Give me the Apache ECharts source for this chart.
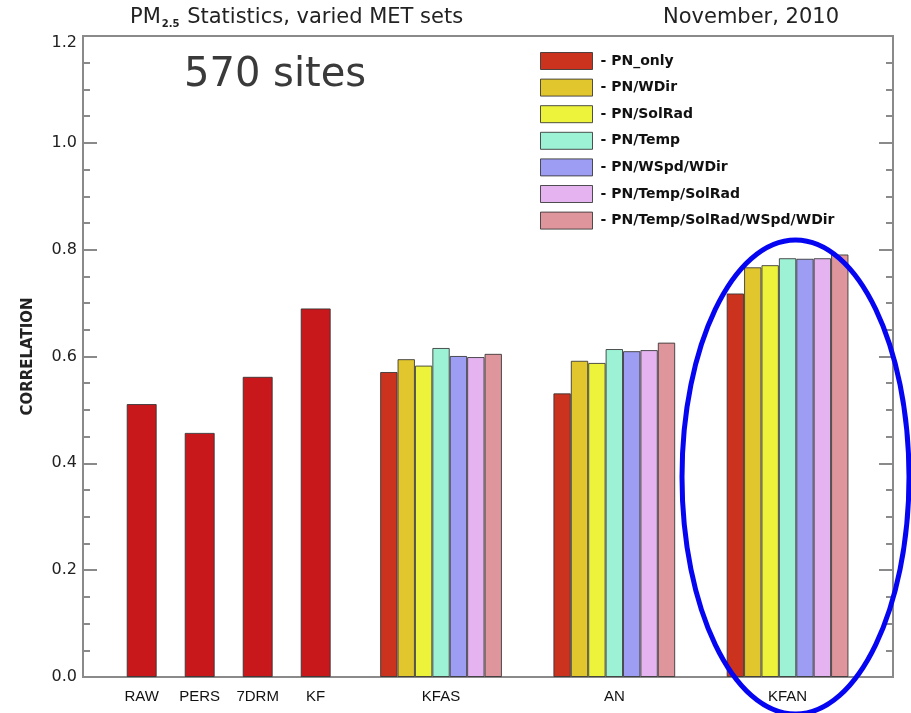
<!DOCTYPE html>
<html>
<head>
<meta charset="utf-8">
<script src="https://cdn.jsdelivr.net/npm/echarts@6/dist/echarts.min.js"></script>
<style>
  html, body { margin: 0; padding: 0; background: #fff; }
  #chart { width: 911px; height: 713px; }
</style>
</head>
<body>
<div id="chart"></div>
<script>
// Single-method forecasts (drawn as lone bars)
const singleCategories = ['RAW', 'PERS', '7DRM', 'KF'];
const singleValues = [0.511, 0.457, 0.562, 0.690];

// Analog-ensemble methods, each with seven MET predictor sets
const groupCategories = ['KFAS', 'AN', 'KFAN'];
const metSetNames = [
  'PN_only',
  'PN/WDir',
  'PN/SolRad',
  'PN/Temp',
  'PN/WSpd/WDir',
  'PN/Temp/SolRad',
  'PN/Temp/SolRad/WSpd/WDir'
];
const pnOnly         = [0.571, 0.531, 0.718];
const pnWDir         = [0.595, 0.592, 0.767];
const pnSolRad       = [0.583, 0.588, 0.771];
const pnTemp         = [0.616, 0.614, 0.784];
const pnWSpdWDir     = [0.601, 0.610, 0.783];
const pnTempSolRad   = [0.599, 0.612, 0.784];
const pnTempSolRadWS = [0.605, 0.626, 0.791];
const metSetValues = [pnOnly, pnWDir, pnSolRad, pnTemp, pnWSpdWDir, pnTempSolRad, pnTempSolRadWS];

// Correlation axis
const yMin = 0;
const yMax = 1.2;
const yStep = 0.2;

const metSetColors = ['#CC331E', '#E2C62E', '#ECF33A', '#9DF2D6', '#9D9DF4', '#E4B3F0', '#DE969C'];
const singleColor = '#C8181C';
const frameColor = '#8a8a8a';
const textColor = '#222';

const TOP = 36, BOTTOM = 36;

const chart = echarts.init(document.getElementById('chart'), null, { renderer: 'canvas' });

const hiddenY = (gi) => ({
  gridIndex: gi, type: 'value', min: yMin, max: yMax, interval: yStep, show: false
});

const frameY = (position, showLabels) => ({
  gridIndex: 0,
  type: 'value',
  position: position,
  min: yMin,
  max: yMax,
  interval: yStep,
  splitLine: { show: false },
  axisLine: { show: true, lineStyle: { color: frameColor, width: 2 } },
  axisTick: { show: true, inside: true, length: 14, lineStyle: { color: frameColor, width: 2 } },
  minorTick: { show: true, splitNumber: 4, length: 7, lineStyle: { color: frameColor, width: 2 } },
  axisLabel: {
    show: showLabels,
    margin: 6,
    color: textColor,
    fontFamily: 'DejaVu Sans',
    fontSize: 16,
    formatter: (v) => (Math.abs(v - yMax) < 1e-9 ? '{top|' + v.toFixed(1) + '}' : v.toFixed(1)),
    rich: { top: { fontFamily: 'DejaVu Sans', fontSize: 16, color: textColor, padding: [14, 0, 0, 0] } }
  },
  name: showLabels ? 'CORRELATION' : '',
  nameLocation: 'middle',
  nameRotate: 90,
  nameGap: 47,
  nameTextStyle: { color: textColor, fontFamily: 'DejaVu Sans', fontSize: 15, fontWeight: 'bold' }
});

const catAxis = (gi, data) => ({
  gridIndex: gi,
  type: 'category',
  data: data,
  axisLine: { show: false },
  axisTick: { show: false },
  splitLine: { show: false },
  axisLabel: {
    interval: 0,
    hideOverlap: false,
    margin: 12,
    color: '#111',
    fontFamily: 'Liberation Sans',
    fontSize: 15
  }
});

const groupSeries = metSetNames.map((name, i) => ({
  name: name,
  type: 'bar',
  xAxisIndex: 2,
  yAxisIndex: 3,
  data: metSetValues[i],
  barWidth: 17.4,
  barGap: '0%',
  itemStyle: { color: metSetColors[i], borderColor: 'rgba(50,50,50,0.85)', borderWidth: 1 },
  emphasis: { disabled: true },
  animation: false
}));

const option = {
  animation: false,
  backgroundColor: '#fff',
  title: [
    {
      text: 'PM{sub|2.5} Statistics, varied MET sets',
      left: 130, top: 7, padding: 0,
      textStyle: {
        color: textColor, fontFamily: 'DejaVu Sans', fontSize: 21, fontWeight: 'normal',
        rich: { sub: { fontFamily: 'DejaVu Sans', fontSize: 10, fontWeight: 'bold', color: textColor, verticalAlign: 'bottom', padding: [12, 1, 0, 1] } }
      }
    },
    {
      text: 'November, 2010',
      left: 663, top: 7, padding: 0,
      textStyle: { color: textColor, fontFamily: 'DejaVu Sans', fontSize: 21, fontWeight: 'normal' }
    },
    {
      text: '570 sites',
      left: 184, top: 56, padding: 0,
      textStyle: { color: '#3a3a3a', fontFamily: 'DejaVu Sans', fontSize: 40, fontWeight: 'normal' }
    }
  ],
  legend: {
    data: metSetNames,
    orient: 'vertical',
    left: 540,
    top: 52,
    padding: 0,
    itemWidth: 52,
    itemHeight: 17,
    itemGap: 8.6,
    icon: 'rect',
    selectedMode: false,
    formatter: (name) => '- ' + name,
    itemStyle: { borderColor: 'rgba(50,50,50,0.85)', borderWidth: 1 },
    textStyle: { color: '#111', fontFamily: 'DejaVu Sans', fontSize: 14, fontWeight: 'bold', padding: [0, 0, 0, 3] }
  },
  grid: [
    { left: 83, right: 18, top: TOP, bottom: BOTTOM, show: true, borderColor: frameColor, borderWidth: 2, backgroundColor: 'transparent' },
    { left: 112.7, width: 232, top: TOP, bottom: BOTTOM },
    { left: 354.4, width: 519.8, top: TOP, bottom: BOTTOM }
  ],
  xAxis: [
    { gridIndex: 0, type: 'value', show: false, min: 0, max: 1 },
    catAxis(1, singleCategories),
    catAxis(2, groupCategories)
  ],
  yAxis: [
    frameY('left', true),
    frameY('right', false),
    hiddenY(1),
    hiddenY(2)
  ],
  series: [
    {
      name: 'single',
      type: 'bar',
      xAxisIndex: 1,
      yAxisIndex: 2,
      data: singleValues,
      barWidth: 30,
      itemStyle: { color: singleColor, borderColor: 'rgba(50,50,50,0.85)', borderWidth: 1 },
      emphasis: { disabled: true },
      animation: false
    }
  ].concat(groupSeries),
  graphic: [
    {
      type: 'ellipse',
      z: 100,
      silent: true,
      shape: { cx: 795.5, cy: 477, rx: 113.5, ry: 237 },
      style: { fill: null, stroke: '#0505F2', lineWidth: 5 }
    }
  ]
};

chart.setOption(option);
</script>
</body>
</html>
